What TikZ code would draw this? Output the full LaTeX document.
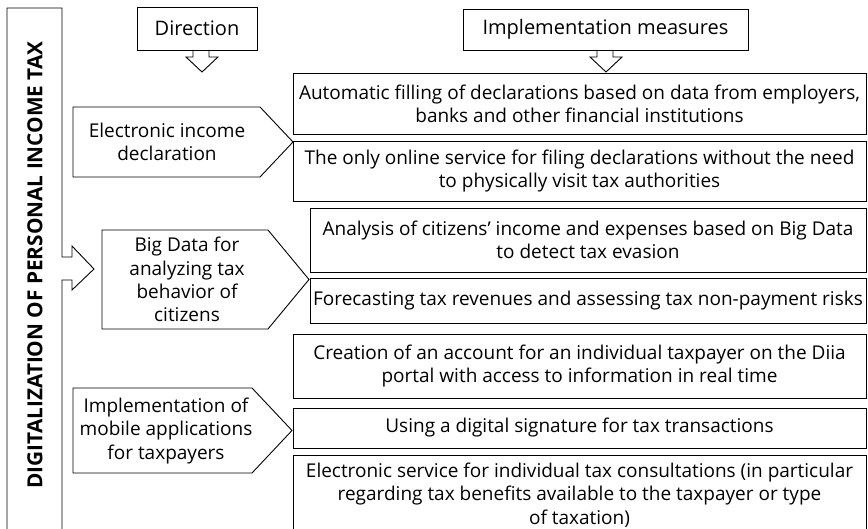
\documentclass[tikz,border=0pt]{standalone}
\usepackage{fontspec}
\setmainfont{Open Sans}
\usetikzlibrary{positioning}

\begin{document}
\begin{tikzpicture}[x=1pt, y=-1pt, line width=0.9pt,
	txt/.style = {font=\fontsize{19}{23.3}\selectfont},
	measure/.style = {draw, rectangle, align=center, inner sep=0pt, outer sep=0pt, minimum width=573pt, txt},
	head/.style = {draw, rectangle, inner sep=0pt, outer sep=0pt, font=\fontsize{20}{23}\selectfont},
	dirtext/.style = {align=center, inner sep=0pt, txt}]
	\useasboundingbox (0,0) rectangle (868,529);
	% left column with arrow
	\draw (7,529) -- (7,8) -- (62,8) -- (62,257) -- (72,257) -- (72,246) -- (94,269) -- (72,290) -- (72,280) -- (62,280) -- (62,529);
	\node[rotate=90, font=\bfseries\fontsize{20.8}{24}\selectfont] (main) at (35,265) {DIGITALIZATION OF PERSONAL INCOME TAX};
	% headings
	\node[head, minimum width=120pt, minimum height=43pt] (dir) at (197,28.5) {Direction};
	\node[head, minimum width=285pt, minimum height=41pt] (imp) at (605.5,29.5) {Implementation measures};
	\draw ([xshift=-4pt]dir.south) -- ++(0,7) -- ++(-7,0) -- ++(16,15) -- ++(16,-15) -- ++(-9,0) -- ++(0,-7);
	\draw ([xshift=-8.5pt]imp.south) -- ++(0,7) -- ++(-7,0) -- ++(16,15) -- ++(16,-15) -- ++(-9,0) -- ++(0,-7);
	% directions
	\draw (73,107) -- (260,107) -- (293,142) -- (260,177) -- (73,177) -- cycle;
	\node[dirtext] (d1) at (167,142) {Electronic income\\declaration};
	\draw (102,230) -- (268,230) -- (309,279.5) -- (268,329) -- (102,329) -- cycle;
	\node[dirtext] (d2) at (187,279.5) {Big Data for\\analyzing tax\\behavior of\\citizens};
	\draw (73,388) -- (252,388) -- (292,430.5) -- (252,473) -- (73,473) -- cycle;
	\node[dirtext] (d3) at (166,431) {Implementation of\\mobile applications\\for taxpayers};
	% measures
	\node[measure, minimum height=61pt] (m1) at (579.5,103.5) {Automatic filling of declarations based on data from employers,\\banks and other financial institutions};
	\node[measure, minimum height=60pt, below=7pt of m1] (m2) {The only online service for filing declarations without the need\\to physically visit tax authorities};
	\node[measure, minimum width=556pt, minimum height=64pt] (m3) at (588,240) {Analysis of citizens' income and expenses based on Big Data\\to detect tax evasion};
	\node[measure, minimum width=556pt, minimum height=45pt, below=6pt of m3] (m4) {Forecasting tax revenues and assessing tax non-payment risks};
	\node[measure, minimum height=64pt] (m5) at (579.5,366) {Creation of an account for an individual taxpayer on the Diia\\portal with access to information in real time};
	\node[measure, minimum height=40pt, below=10pt of m5] (m6) {Using a digital signature for tax transactions};
	\node[measure, minimum height=80pt, below=7pt of m6] (m7) {Electronic service for individual tax consultations (in particular\\regarding tax benefits available to the taxpayer or type\\of taxation)};
\end{tikzpicture}
\end{document}
